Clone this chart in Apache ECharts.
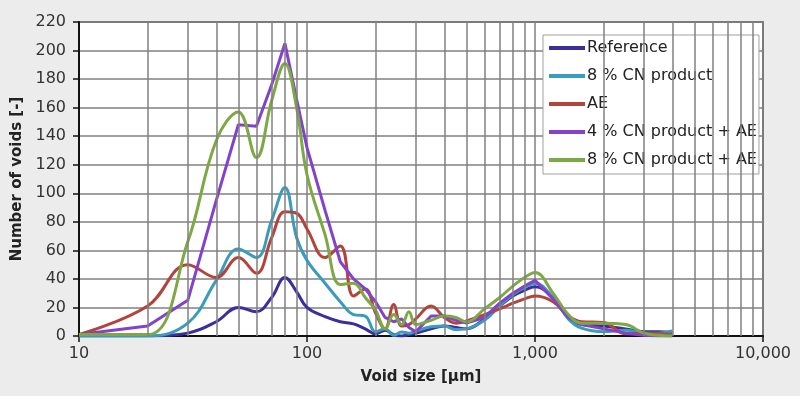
<!DOCTYPE html>
<html><head><meta charset="utf-8">
<script src="https://cdn.jsdelivr.net/npm/echarts@6/dist/echarts.min.js"></script>
<style>html,body{margin:0;padding:0;background:#ececec}#c{width:800px;height:396px}</style>
</head><body><div id="c"></div>
<script>
// Void size classes [µm]
const sizes = [10,20,30,40,50,60,70,80,90,100,120,140,160,180,200,220,240,260,280,300,350,400,450,500,600,700,800,900,1000,1200,1400,1600,2000,2500,3000,3500,4000];
// Number of voids per series
const reference = [0,0,2,10,20,17,27,41,31,20,13.5,10,8.5,5,1.5,4,1,0,1,2,5,7,6,5,12,21,28,32,34.5,27,13,8,7,5,3,3,2.5];
const cn8 = [0,0,9,39,61,55,81,104,69,53,37,24,15,14,3,5,0.5,2.8,2,3.5,6.5,7,4.5,5,11,21,29,34,37,27,12,5.5,3,4,2,2,3.5];
const ae = [1,21,50,41,55,44,69,87,86,75,55,63,28,33,16,5,22,7,8,12,21,13,9,10.5,15,19,23,26,28,24,14,10,9.5,1.5,2,1.5,1];
const cn4ae = [1,7,25,95,148,147,176,205,166,132,88,52,40,33,24,13,10,12,6,3,14,14,11,9,13,23,30,35,39,26,13,8,5,2,0.5,0,0];
const cn8ae = [1,1,66,137,157,125,165,191,160,113,71,36,37,27,18,5,15,8,17,8,11,14,13,9.8,19,27,35,41,44.5,30,15,9,9,8,2,0.5,0];
const seriesNames = ['Reference','8 % CN product','AE','4 % CN product + AE','8 % CN product + AE'];
const seriesValues = [reference, cn8, ae, cn4ae, cn8ae];
const colors = ['#3a2f9c','#3a9cbc','#b3443b','#8242cc','#7ea843'];
const smoothing = [0.4,0.4,0.4,0,0.4];
// Minor vertical grid positions (2..9 of each decade)
const minorGrid = [20,30,40,50,60,70,80,90,200,300,400,500,600,700,800,900,2000,3000,4000,5000,6000,7000,8000,9000];

const FONT = 'DejaVu Sans';
const chart = echarts.init(document.getElementById('c'), null, {renderer:'canvas'});
const series = [{
  name: '_grid', type: 'line', data: [], z: 1, silent: true,
  markLine: {
    silent: true, symbol: ['none','none'], animation: false,
    label: {show: false},
    lineStyle: {color: '#808080', width: 1.5, type: 'solid'},
    data: minorGrid.map(v => ({xAxis: v}))
  }
}];
seriesNames.forEach((n, i) => {
  series.push({
    name: n, type: 'line', z: 3,
    data: sizes.map((x, j) => [x, seriesValues[i][j]]),
    showSymbol: false, symbol: 'none',
    smooth: smoothing[i],
    color: colors[i],
    lineStyle: {width: 3, color: colors[i]}
  });
});

chart.setOption({
  animation: false,
  backgroundColor: '#ececec',
  textStyle: {fontFamily: FONT},
  grid: {left: 79, right: 37, top: 22, bottom: 60, show: true, backgroundColor: '#ffffff', borderColor: '#444', borderWidth: 1.5},
  legend: {
    data: seriesNames, orient: 'vertical', left: 543, top: 35,
    padding: [4, 2, 5, 6], itemGap: 10, itemWidth: 36, itemHeight: 4, icon: 'rect',
    backgroundColor: '#ffffff', borderColor: '#a0a0a0', borderWidth: 1,
    textStyle: {fontFamily: FONT, fontSize: 16, color: '#222', lineHeight: 18, padding: [0, 0, 0, -3]}
  },
  xAxis: {
    type: 'log', logBase: 10, min: 10, max: 10000,
    name: 'Void size [µm]', nameLocation: 'middle', nameGap: 34,
    nameTextStyle: {fontFamily: FONT, fontSize: 15, fontWeight: 'bold', color: '#222'},
    axisLine: {show: true, onZero: false, lineStyle: {color: '#111', width: 2}},
    axisTick: {show: true, length: 6, lineStyle: {color: '#111', width: 1.5}},
    axisLabel: {fontFamily: FONT, fontSize: 16, color: '#333', margin: 10,
      formatter: v => Math.round(v).toLocaleString('en-US')},
    splitLine: {show: true, lineStyle: {color: '#808080', width: 1.5}}
  },
  yAxis: {
    type: 'value', min: 0, max: 220, interval: 20,
    name: 'Number of voids [-]', nameLocation: 'middle', nameGap: 52,
    nameTextStyle: {fontFamily: FONT, fontSize: 15, fontWeight: 'bold', color: '#222'},
    axisLine: {show: true, lineStyle: {color: '#111', width: 2}},
    axisTick: {show: true, length: 6, lineStyle: {color: '#111', width: 1.5}},
    axisLabel: {fontFamily: FONT, fontSize: 16, color: '#333', margin: 13},
    splitLine: {show: true, lineStyle: {color: '#808080', width: 1.5}}
  },
  series: series
});
</script></body></html>
